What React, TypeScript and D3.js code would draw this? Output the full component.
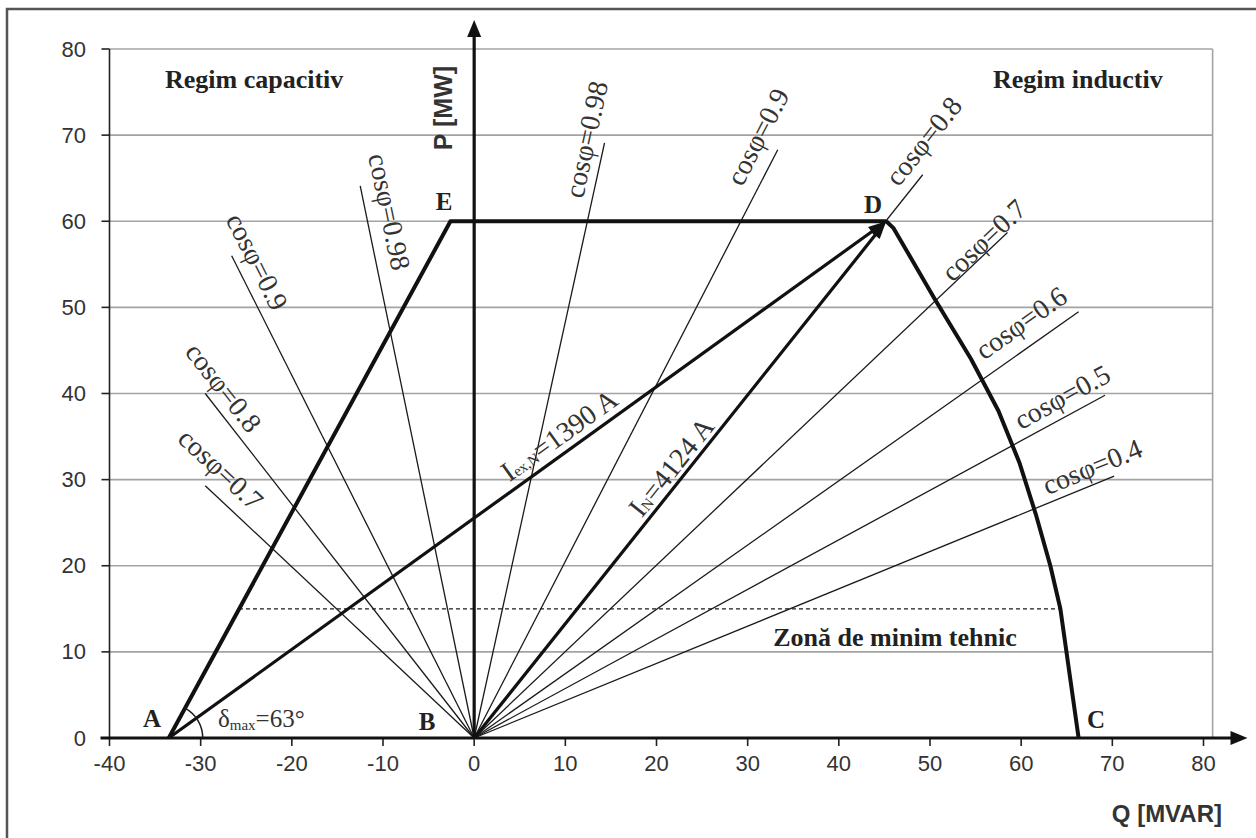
import * as d3 from 'd3';

const W = 1256;
const H = 838;

// axis ticks
const qTicks = [-40, -30, -20, -10, 0, 10, 20, 30, 40, 50, 60, 70, 80];
const pTicks = [0, 10, 20, 30, 40, 50, 60, 70, 80];

// corner points of the P-Q capability diagram [Q MVAR, P MW]
const pointA: [number, number] = [-33.5, 0];
const pointB: [number, number] = [0, 0];
const pointE: [number, number] = [-2.6, 60];
const pointD: [number, number] = [45.2, 60];

// right boundary, D -> C
const rightLimit: [number, number][] = [
  [45.2, 60], [46.0, 59.2], [50.5, 51], [54.5, 44], [57.5, 38],
  [59.8, 32], [61.6, 26], [63.2, 20], [64.3, 15], [66.3, 0],
];

const minTechP = 15;
const minTechRange = [-25.8, 64.3];

// cos phi rays from the origin: end point and label centre [Q, P]
const cosInductive = [
  { c: '0.98', end: [14.3, 69.1], at: [12.3, 69.5] },
  { c: '0.9', end: [33.3, 68.3], at: [31.1, 69.8] },
  { c: '0.8', end: [49.2, 65.4], at: [49.3, 69.3] },
  { c: '0.7', end: [58.5, 58.7], at: [55.9, 57.8] },
  { c: '0.6', end: [66.3, 49.5], at: [60.0, 48.2] },
  { c: '0.5', end: [69.2, 39.8], at: [64.5, 39.6] },
  { c: '0.4', end: [70.2, 30.4], at: [67.8, 31.5] },
];
const cosCapacitive = [
  { c: '0.98', end: [-12.5, 64.1], at: [-9.3, 61.1] },
  { c: '0.9', end: [-26.6, 56.0], at: [-23.8, 55.3] },
  { c: '0.8', end: [-29.5, 40.0], at: [-27.5, 40.7] },
  { c: '0.7', end: [-29.5, 29.3], at: [-27.8, 31.2] },
];

const serif = '"Liberation Serif", "DejaVu Serif", serif';
const sans = '"Liberation Sans", Arial, sans-serif';
const ink = '#1a1a1a';

export default function App() {
  const x = d3.scaleLinear().domain([-40, 80]).range([109.5, 1203.5]);
  const y = d3.scaleLinear().domain([0, 80]).range([738, 49]);
  const line = d3.line<number[]>().x(d => x(d[0])).y(d => y(d[1]));

  const ang = (q: number, p: number, q0 = 0, p0 = 0) =>
    (Math.atan2(y(p) - y(p0), x(q) - x(q0)) * 180) / Math.PI;

  const textAng = (q: number, p: number, q0 = 0, p0 = 0) => {
    let a = ang(q, p, q0, p0);
    if (a < -90) a += 180;
    return a;
  };

  // arrowhead polygon at "to", line shortened to its base
  const arrow = (from: [number, number], to: [number, number], len = 18, hw = 6) => {
    const dx = to[0] - from[0];
    const dy = to[1] - from[1];
    const d = Math.hypot(dx, dy);
    const ux = dx / d, uy = dy / d;
    const bx = to[0] - ux * len, by = to[1] - uy * len;
    return {
      base: [bx, by],
      pts: `${to[0]},${to[1]} ${bx - uy * hw},${by + ux * hw} ${bx + uy * hw},${by - ux * hw}`,
    };
  };

  const x0 = x(0), y0 = y(0);
  const plotRight = x(81);
  const axisTipX = x(80) + 44;
  const axisTipY = y(80) - 29;

  const dPx: [number, number] = [x(pointD[0]), y(pointD[1])];
  const aPx: [number, number] = [x(pointA[0]), y(pointA[1])];
  const bPx: [number, number] = [x(pointB[0]), y(pointB[1])];
  const exArrow = arrow(aPx, dPx);
  const nArrow = arrow(bPx, dPx);

  const deltaR = 34;
  const deltaA = (-ang(pointE[0], pointE[1], pointA[0], pointA[1]) * Math.PI) / 180;

  const cosLabel = (d: { c: string; end: number[]; at: number[] }, i: number, key: string) => (
    <text
      key={key + i}
      transform={`translate(${x(d.at[0])},${y(d.at[1])}) rotate(${textAng(d.end[0], d.end[1])})`}
      textAnchor="middle"
      dominantBaseline="central"
      fontFamily={serif}
      fontSize={28}
      fill="#333"
    >
      {`cosφ=${d.c}`}
    </text>
  );

  return (
    <svg
      width={W}
      height={H}
      style={{ position: 'absolute', left: 0, top: 0, display: 'block', background: '#fff' }}
    >
      <rect x={7} y={9} width={1300} height={900} fill="none" stroke="#555" strokeWidth={2.5} />

      {/* grid */}
      {pTicks.filter(p => p > 0).map(p => (
        <line key={'g' + p} x1={x(-40)} x2={plotRight} y1={y(p)} y2={y(p)} stroke="#a3a3a3" strokeWidth={1.6} />
      ))}
      <line x1={plotRight} x2={plotRight} y1={y(80)} y2={y(0)} stroke="#a3a3a3" strokeWidth={1.6} />

      {/* left value axis */}
      <line x1={x(-40)} x2={x(-40)} y1={y(80)} y2={y(0)} stroke="#222" strokeWidth={1.6} />
      {pTicks.map(p => (
        <g key={'pt' + p}>
          <line x1={x(-40) - 8} x2={x(-40)} y1={y(p)} y2={y(p)} stroke="#222" strokeWidth={1.6} />
          <text x={86} y={y(p)} textAnchor="end" dominantBaseline="central" fontFamily={sans} fontSize={22} fill="#333">
            {p}
          </text>
        </g>
      ))}

      {/* Q axis */}
      {qTicks.map(q => (
        <g key={'qt' + q}>
          <line x1={x(q)} x2={x(q)} y1={y0} y2={y0 + 8} stroke="#222" strokeWidth={1.6} />
          <text x={x(q)} y={771} textAnchor="middle" fontFamily={sans} fontSize={22} fill="#333">
            {q}
          </text>
        </g>
      ))}

      {/* cos phi rays */}
      {[...cosInductive, ...cosCapacitive].map((d, i) => (
        <line key={'r' + i} x1={x0} y1={y0} x2={x(d.end[0])} y2={y(d.end[1])} stroke={ink} strokeWidth={1.3} />
      ))}
      {cosInductive.map((d, i) => cosLabel(d, i, 'li'))}
      {cosCapacitive.map((d, i) => cosLabel(d, i, 'lc'))}

      {/* technical minimum */}
      <line
        x1={x(minTechRange[0])}
        x2={x(minTechRange[1])}
        y1={y(minTechP)}
        y2={y(minTechP)}
        stroke={ink}
        strokeWidth={1.3}
        strokeDasharray="4 3"
      />

      {/* axes drawn over */}
      <line x1={x(-40) - 9} x2={axisTipX - 14} y1={y0} y2={y0} stroke="#111" strokeWidth={3.2} />
      <polygon points={`${axisTipX},${y0} ${axisTipX - 17},${y0 - 7} ${axisTipX - 17},${y0 + 7}`} fill="#111" />
      <line x1={x0} x2={x0} y1={y0} y2={axisTipY + 14} stroke="#111" strokeWidth={3.2} />
      <polygon points={`${x0},${axisTipY} ${x0 - 7},${axisTipY + 17} ${x0 + 7},${axisTipY + 17}`} fill="#111" />

      {/* capability boundary */}
      <path d={line([pointA, pointE, pointD]) || ''} fill="none" stroke="#111" strokeWidth={4} strokeLinejoin="round" />
      <path d={line(rightLimit) || ''} fill="none" stroke="#111" strokeWidth={4} strokeLinejoin="round" />

      {/* current vectors */}
      <line x1={aPx[0]} y1={aPx[1]} x2={exArrow.base[0]} y2={exArrow.base[1]} stroke="#111" strokeWidth={3.2} />
      <polygon points={exArrow.pts} fill="#111" />
      <line x1={bPx[0]} y1={bPx[1]} x2={nArrow.base[0]} y2={nArrow.base[1]} stroke="#111" strokeWidth={3.2} />
      <polygon points={nArrow.pts} fill="#111" />

      <text
        transform={`translate(${x(9.3)},${y(35.2)}) rotate(${ang(pointD[0], pointD[1], pointA[0], pointA[1])})`}
        textAnchor="middle"
        dominantBaseline="central"
        fontFamily={serif}
        fontSize={28}
        fill="#333"
      >
        I<tspan fontSize={15} dy={5}>ex,N</tspan>
        <tspan dy={-5}>=1390 A</tspan>
      </text>
      <text
        transform={`translate(${x(21.6)},${y(31.5)}) rotate(${ang(pointD[0], pointD[1])})`}
        textAnchor="middle"
        dominantBaseline="central"
        fontFamily={serif}
        fontSize={28}
        fill="#333"
      >
        I<tspan fontSize={15} dy={5}>N</tspan>
        <tspan dy={-5}>=4124 A</tspan>
      </text>

      {/* load angle */}
      <path
        d={`M ${aPx[0] + deltaR} ${aPx[1]} A ${deltaR} ${deltaR} 0 0 0 ${aPx[0] + deltaR * Math.cos(deltaA)} ${aPx[1] - deltaR * Math.sin(deltaA)}`}
        fill="none"
        stroke={ink}
        strokeWidth={1.5}
      />
      <text x={218} y={727} fontFamily={serif} fontSize={25} fill="#333">
        δ<tspan fontSize={15} dy={3}>max</tspan>
        <tspan dy={-3}>=63°</tspan>
      </text>

      {/* point names */}
      <g fontFamily={serif} fontSize={25} fontWeight="bold" fill="#222" textAnchor="middle">
        <text x={152} y={727}>A</text>
        <text x={427} y={730}>B</text>
        <text x={1096} y={728}>C</text>
        <text x={873} y={213}>D</text>
        <text x={444} y={210}>E</text>
      </g>

      {/* region labels */}
      <g fontFamily={serif} fontSize={26} fontWeight="bold" fill="#222">
        <text x={165} y={88}>Regim capacitiv</text>
        <text x={993} y={88}>Regim inductiv</text>
        <text x={895} y={646} textAnchor="middle">Zonă de minim tehnic</text>
      </g>

      {/* axis titles */}
      <text x={1222} y={822} textAnchor="end" fontFamily={sans} fontSize={24} fontWeight="bold" fill="#333">
        Q [MVAR]
      </text>
      <text
        transform="translate(452,108) rotate(-90)"
        textAnchor="middle"
        fontFamily={sans}
        fontSize={25}
        fontWeight="bold"
        fill="#333"
      >
        P [MW]
      </text>
    </svg>
  );
}
